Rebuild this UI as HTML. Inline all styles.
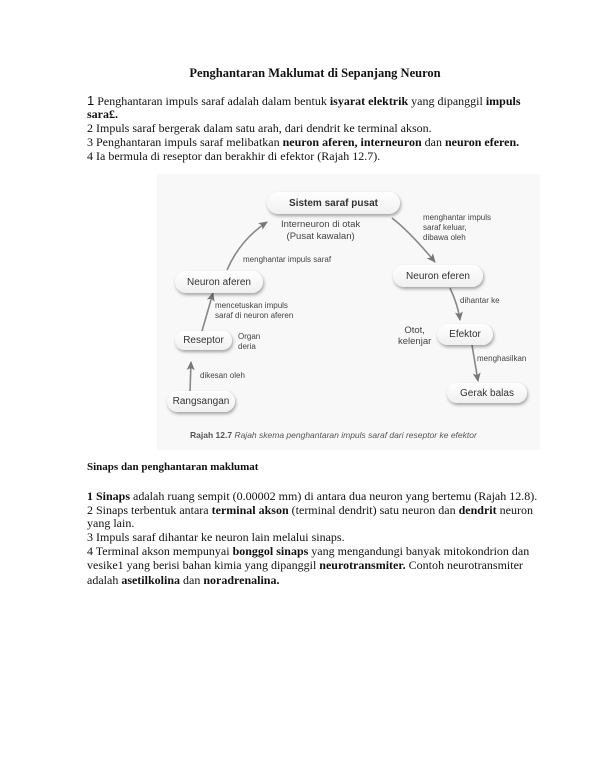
<!DOCTYPE html>
<html><head><meta charset="utf-8"><style>
body{margin:0;width:605px;height:774px;background:#fff;position:relative;overflow:hidden;font-family:"Liberation Serif",serif;color:#111}
.l{position:absolute;left:87px;font-size:12px;white-space:nowrap;line-height:14px}
.d{position:absolute;font-family:"Liberation Sans",sans-serif;color:#444;white-space:nowrap}
.n{position:absolute;border-radius:12px;background:linear-gradient(#fff,#f0f0f0);box-shadow:1px 2px 3px rgba(0,0,0,.35);font-family:"Liberation Sans",sans-serif;font-size:10px;color:#333;display:flex;align-items:center;justify-content:center}
.s{font-size:8px;line-height:10px}
</style></head><body>
<div style="position:absolute;left:0;width:605px;top:66px;text-align:center;font-weight:bold;font-size:12.5px;padding-left:25px;box-sizing:border-box">Penghantaran Maklumat di Sepanjang Neuron</div>
<div class="l" style="top:94px"><span style="font-family:'Liberation Sans';font-size:13px">1</span> Penghantaran impuls saraf adalah dalam bentuk <b>isyarat elektrik</b> yang dipanggil <b>impuls</b></div>
<div class="l" style="top:107px"><b>sara£.</b></div>
<div class="l" style="top:121px">2 Impuls saraf bergerak dalam satu arah, dari dendrit ke terminal akson.</div>
<div class="l" style="top:135px">3 Penghantaran impuls saraf melibatkan <b>neuron aferen, interneuron</b> dan <b>neuron eferen.</b></div>
<div class="l" style="top:149px">4 Ia bermula di reseptor dan berakhir di efektor (Rajah 12.7).</div>

<div style="position:absolute;left:157px;top:174px;width:383px;height:276px;background:#f8f8f8"></div>
<svg style="position:absolute;left:0;top:0" width="605" height="774">
<defs><marker id="a" markerUnits="userSpaceOnUse" markerWidth="10" markerHeight="10" refX="8" refY="5" orient="auto"><path d="M0,1 L9,5 L0,9 L2,5 z" fill="#777"/></marker></defs>
<g stroke="#888" stroke-width="1.6" fill="none" marker-end="url(#a)">
<path d="M190,392 L191,362"/>
<path d="M202,331 Q208,310 213,293"/>
<path d="M227,270 Q240,240 267,222"/>
<path d="M392,218 Q410,232 435,262"/>
<path d="M450,288 Q458,305 460,320"/>
<path d="M472,345 L478,381"/>
</g></svg>
<div class="n" style="left:267px;top:192px;width:133px;height:22px;font-weight:bold">Sistem saraf pusat</div>
<div class="d" style="left:281px;top:219px;font-size:9.5px;text-align:center;line-height:12px">Interneuron di otak<br>(Pusat kawalan)</div>
<div class="d s" style="left:243px;top:255px">menghantar impuls saraf</div>
<div class="n" style="left:175px;top:271px;width:88px;height:22px">Neuron aferen</div>
<div class="d s" style="left:215px;top:301px">mencetuskan impuls<br>saraf di neuron aferen</div>
<div class="n" style="left:175px;top:331px;width:57px;height:19px">Reseptor</div>
<div class="d s" style="left:238px;top:332px">Organ<br>deria</div>
<div class="d s" style="left:200px;top:371px">dikesan oleh</div>
<div class="n" style="left:167px;top:391px;width:68px;height:21px">Rangsangan</div>
<div class="d s" style="left:423px;top:213px">menghantar impuls<br>saraf keluar,<br>dibawa oleh</div>
<div class="n" style="left:393px;top:265px;width:90px;height:22px">Neuron eferen</div>
<div class="d s" style="left:460px;top:296px">dihantar ke</div>
<div class="d" style="left:398px;top:325px;font-size:9.5px;text-align:center;line-height:11px">Otot,<br>kelenjar</div>
<div class="n" style="left:437px;top:324px;width:56px;height:21px">Efektor</div>
<div class="d s" style="left:477px;top:354px">menghasilkan</div>
<div class="n" style="left:447px;top:383px;width:80px;height:20px">Gerak balas</div>
<div class="d" style="left:190px;top:430px;font-size:8.5px;color:#555"><b>Rajah 12.7</b> <i>Rajah skema penghantaran impuls saraf dari reseptor ke efektor</i></div>

<div class="l" style="top:460px;font-weight:bold;font-size:11px">Sinaps dan penghantaran maklumat</div>
<div class="l" style="top:489px"><b>1 Sinaps</b> adalah ruang sempit (0.00002 mm) di antara dua neuron yang bertemu (Rajah 12.8).</div>
<div class="l" style="top:503px">2 Sinaps terbentuk antara <b>terminal akson</b> (terminal dendrit) satu neuron dan <b>dendrit</b> neuron</div>
<div class="l" style="top:516px">yang lain.</div>
<div class="l" style="top:530px">3 Impuls saraf dihantar ke neuron lain melalui sinaps.</div>
<div class="l" style="top:544px">4 Terminal akson mempunyai <b>bonggol sinaps</b> yang mengandungi banyak mitokondrion dan</div>
<div class="l" style="top:558px">vesike1 yang berisi bahan kimia yang dipanggil <b>neurotransmiter.</b> Contoh neurotransmiter</div>
<div class="l" style="top:573px">adalah <b>asetilkolina</b> dan <b>noradrenalina.</b></div>
</body></html>
